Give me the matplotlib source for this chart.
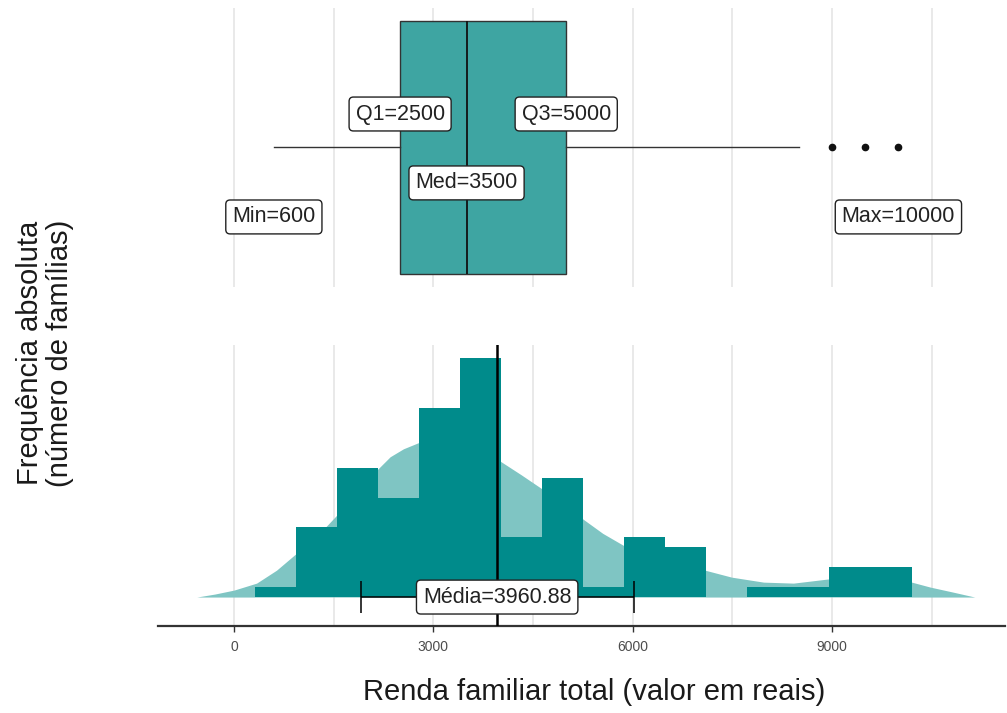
import matplotlib
matplotlib.use("Agg")
import matplotlib.pyplot as plt
import numpy as np

plt.rcParams['font.family'] = ['Liberation Sans', 'DejaVu Sans']

# resumo da renda familiar (boxplot)
renda_min = 600
renda_q1 = 2500
renda_med = 3500
renda_q3 = 5000
bigode_sup = 8500
renda_max = 10000
outliers = [9000, 9500, 10000]

# media e desvio padrao
renda_media = 3960.88
renda_dp = 2054

# histograma: limites das classes e frequencias
limites = [310, 930, 1550, 2165, 2785, 3400, 4020, 4640, 5255, 5875,
           6490, 7110, 7725, 8345, 8960, 9580, 10200]
frequencias = [1, 7, 13, 10, 19, 24, 6, 12, 1, 6, 5, 0, 1, 1, 3, 3]

# curva de densidade (escala de contagem)
dens_x = [-560, -290, 0, 340, 640, 940, 1260, 1570, 1870, 2170, 2350, 2550,
          2770, 3020, 3250, 3480, 3730, 4020, 4320, 4630, 4940, 5260, 5550,
          5860, 6190, 6490, 6860, 7090, 7490, 7970, 8420, 8920, 9270, 9650,
          9950, 10200, 10480, 10820, 11150]
dens_y = [0.0, 0.3, 0.7, 1.4, 2.7, 4.4, 6.2, 8.4, 10.7, 12.9, 14.1, 14.9,
          15.5, 15.9, 16.0, 15.9, 15.0, 13.6, 12.3, 10.9, 9.4, 7.8, 6.4,
          5.2, 4.2, 3.5, 3.0, 2.7, 2.0, 1.5, 1.4, 1.8, 2.0, 2.0,
          1.9, 1.5, 1.0, 0.5, 0.0]

ticks_x = [0, 3000, 6000, 9000]
grade_x = [0, 1500, 3000, 4500, 6000, 7500, 9000, 10500]

cor_barra = '#008b8b'
cor_dens = '#7fc5c3'
cor_caixa = '#3ea5a2'
cor_grade = '#e3e3e3'

fig = plt.figure(figsize=(10.07, 7.13), dpi=100)
ax_box = fig.add_axes([0.1569, 0.5975, 0.8411, 0.3913])
ax_hist = fig.add_axes([0.1569, 0.1220, 0.8411, 0.3941])

xlim = (-1144, 11604)
caixa_lbl = dict(boxstyle='round,pad=0.3,rounding_size=0.2', fc='white',
                 ec='#222222', lw=1.0)
fs_lbl = 15.5

# ---- painel superior: boxplot ----
ax_box.set_xlim(*xlim)
ax_box.set_ylim(-0.5, 0.5)
for g in grade_x:
    ax_box.axvline(g, color=cor_grade, lw=1.1, zorder=0)

stats = [dict(med=renda_med, q1=renda_q1, q3=renda_q3,
              whislo=renda_min, whishi=bigode_sup, fliers=outliers)]
ax_box.bxp(stats, positions=[0], widths=0.91, vert=False, patch_artist=True,
           showcaps=False,
           boxprops=dict(facecolor=cor_caixa, edgecolor='#333333', lw=1.0),
           medianprops=dict(color='#111111', lw=1.3),
           whiskerprops=dict(color='#333333', lw=1.0),
           flierprops=dict(marker='o', markerfacecolor='#111111',
                           markeredgecolor='#111111', markersize=4.5))

rotulos = [(renda_q1, 0.12, f'Q1={renda_q1}'),
           (renda_q3, 0.12, f'Q3={renda_q3}'),
           (renda_med, -0.127, f'Med={renda_med}'),
           (renda_min, -0.249, f'Min={renda_min}'),
           (renda_max, -0.249, f'Max={renda_max}')]
for x, y, txt in rotulos:
    ax_box.text(x, y, txt, ha='center', va='center', fontsize=fs_lbl,
                color='#222222', bbox=caixa_lbl, zorder=5)

ax_box.set_xticks([])
ax_box.set_yticks([])
for s in ax_box.spines.values():
    s.set_visible(False)

# ---- painel inferior: histograma + densidade ----
ax_hist.set_xlim(*xlim)
ax_hist.set_ylim(-2.91, 25.33)
for g in grade_x:
    ax_hist.axvline(g, color=cor_grade, lw=1.1, zorder=0)

ax_hist.fill_between(dens_x, 0, dens_y, color=cor_dens, lw=0, zorder=1)
ax_hist.stairs(frequencias, limites, fill=True, color=cor_barra, lw=0, zorder=2)

ax_hist.axvline(renda_media, color='black', lw=1.8, zorder=3)
ax_hist.errorbar(renda_media, 0, xerr=renda_dp, fmt='none', ecolor='black',
                 elinewidth=1.1, capsize=11.5, capthick=1.1, zorder=4)
ax_hist.text(renda_media, 0, f'Média={renda_media:.2f}', ha='center',
             va='center', fontsize=fs_lbl, color='#222222', bbox=caixa_lbl,
             zorder=5)

ax_hist.set_yticks([])
for s in ['left', 'right', 'top']:
    ax_hist.spines[s].set_visible(False)
ax_hist.spines['bottom'].set_color('#333333')
ax_hist.spines['bottom'].set_linewidth(1.6)
ax_hist.set_xticks(ticks_x)
ax_hist.set_xticklabels([str(t) for t in ticks_x], fontsize=10, color='#4d4d4d')
ax_hist.tick_params(axis='x', length=4, width=1, color='#333333', pad=6)

fig.text(594 / 1007, 1 - 692 / 713, 'Renda familiar total (valor em reais)',
         ha='center', va='center', fontsize=21, color='#1a1a1a')
fig.text(45 / 1007, 1 - 353 / 713, 'Frequência absoluta\n(número de famílias)',
         ha='center', va='center', rotation=90, fontsize=21,
         color='#1a1a1a', multialignment='center', linespacing=1.05)

fig.savefig('out.png', dpi=100)
